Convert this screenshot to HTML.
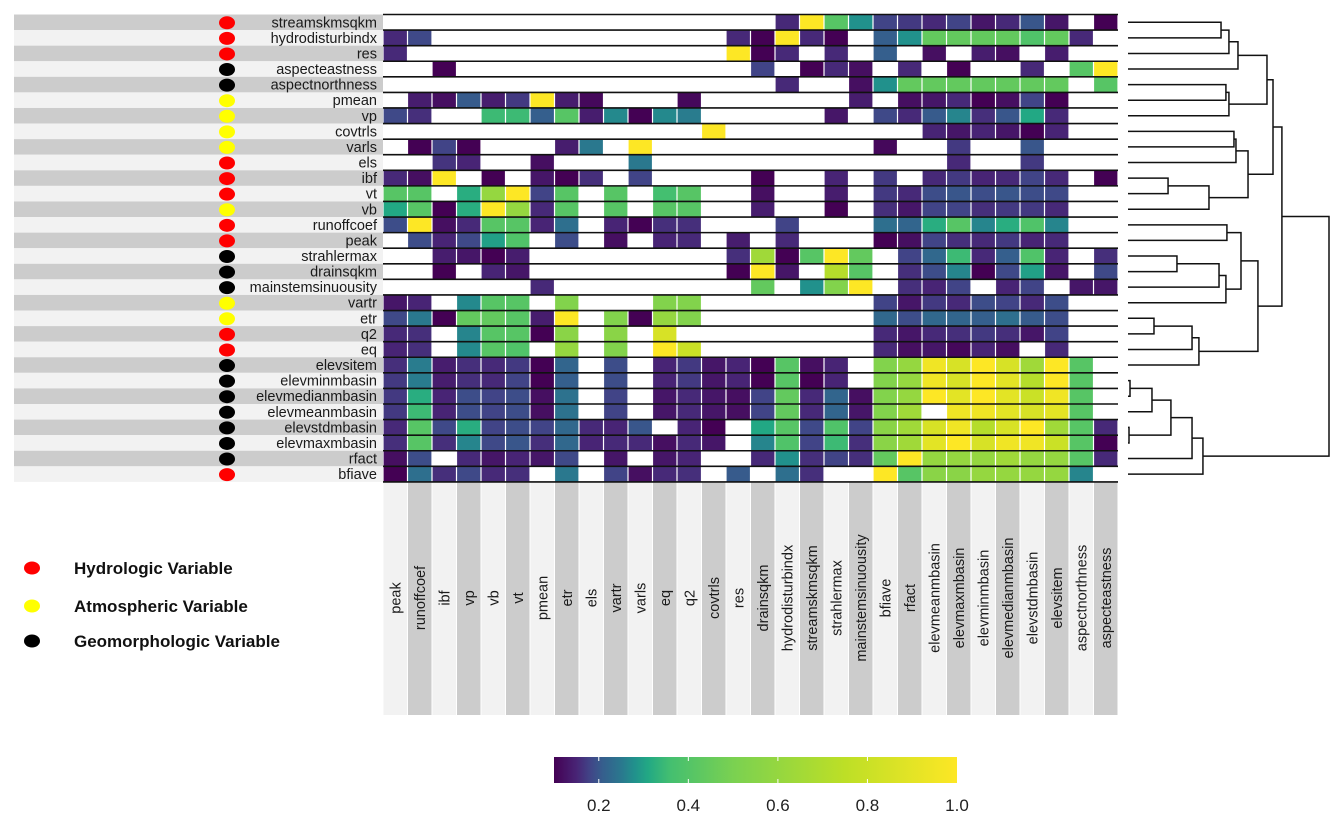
<!DOCTYPE html>
<html><head><meta charset="utf-8"><style>
html,body{margin:0;padding:0;background:#fff;}
svg{display:block;font-family:"Liberation Sans",Arial,sans-serif;}
</style></head><body>
<svg id="chart" width="1344" height="826" viewBox="0 0 1344 826" xmlns="http://www.w3.org/2000/svg">
<g id="legend">
<ellipse cx="32" cy="568" rx="8" ry="6.5" fill="#ff0000"/>
<text x="74" y="574" font-size="17" font-weight="bold" fill="#111">Hydrologic Variable</text>
<ellipse cx="32" cy="606" rx="8" ry="6.5" fill="#ffff00"/>
<text x="74" y="612" font-size="17" font-weight="bold" fill="#111">Atmospheric Variable</text>
<ellipse cx="32" cy="641" rx="8" ry="6.5" fill="#000"/>
<text x="74" y="647" font-size="17" font-weight="bold" fill="#111">Geomorphologic Variable</text>
</g>
</svg>
<script>
const _ = null;
const rowNames = ["streamskmsqkm","hydrodisturbindx","res","aspecteastness","aspectnorthness","pmean","vp","covtrls","varls","els","ibf","vt","vb","runoffcoef","peak","strahlermax","drainsqkm","mainstemsinuousity","vartr","etr","q2","eq","elevsitem","elevminmbasin","elevmedianmbasin","elevmeanmbasin","elevstdmbasin","elevmaxmbasin","rfact","bfiave"];
const rowTypes = ["H","H","H","G","G","A","A","A","A","H","H","H","A","H","H","G","G","G","A","A","H","H","G","G","G","G","G","G","G","H"];
const colNames = ["peak","runoffcoef","ibf","vp","vb","vt","pmean","etr","els","vartr","varls","eq","q2","covtrls","res","drainsqkm","hydrodisturbindx","streamskmsqkm","strahlermax","mainstemsinuousity","bfiave","rfact","elevmeanmbasin","elevmaxmbasin","elevminmbasin","elevmedianmbasin","elevstdmbasin","elevsitem","aspectnorthness","aspecteastness"];
const colorTicks = [0.2,0.4,0.6,0.8,1.0];
const values = [
[_,_,_,_,_,_,_,_,_,_,_,_,_,_,_,_,.155,1,.41,.28,.18,.17,.155,.18,.13,.155,.2,.13,_,.1],
[.155,.185,_,_,_,_,_,_,_,_,_,_,_,_,.155,.1,1,.155,.1,_,.21,.28,.44,.44,.44,.44,.39,.44,.155,_],
[.155,_,_,_,_,_,_,_,_,_,_,_,_,_,1,.1,.155,_,.155,_,.21,_,.12,_,.14,.12,_,.14,_,_],
[_,_,.1,_,_,_,_,_,_,_,_,_,_,_,_,.18,_,.1,.155,.12,_,.155,_,.1,_,_,.155,_,.41,1],
[_,_,_,_,_,_,_,_,_,_,_,_,_,_,_,_,.155,_,_,.12,.28,.44,.44,.44,.44,.44,.44,.44,_,.41],
[_,.14,.12,.205,.14,.17,1,.14,.11,_,_,_,.11,_,_,_,_,_,_,.14,_,.12,.13,.155,.1,.12,.18,.1,_,_],
[.185,.16,_,_,.35,.35,.21,.41,.14,.27,.1,.27,.255,_,_,_,_,_,.13,_,.185,.155,.205,.265,.16,.2,.31,.155,_,_],
[_,_,_,_,_,_,_,_,_,_,_,_,_,1,_,_,_,_,_,_,_,_,.15,.13,.15,.13,.1,.15,_,_],
[_,.1,.18,.1,_,_,_,.14,.25,_,1,_,_,_,_,_,_,_,_,_,.11,_,_,.17,_,_,.2,_,_,_],
[_,_,.165,.15,_,_,.12,_,_,_,.25,_,_,_,_,_,_,_,_,_,_,_,_,.155,_,_,.17,_,_,_],
[.155,.12,1,_,.1,_,.13,.1,.16,_,.18,_,_,_,_,.1,_,_,.15,_,.17,_,.155,.17,.15,.155,.18,.155,_,.1],
[.41,.41,_,.32,.6,1,.18,.41,_,.41,_,.36,.41,_,_,.12,_,_,.14,_,.17,.155,.19,.2,.19,.2,.19,.185,_,_],
[.31,.41,.1,.32,1,.6,.155,.41,_,.41,_,.41,.41,_,_,.14,_,_,.1,_,.16,.13,.18,.18,.16,.17,.17,.155,_,_],
[.19,1,.12,.155,.41,.41,.15,.235,_,.15,.1,.16,.16,_,_,_,.18,_,_,_,.235,.22,.32,.41,.265,.32,.39,.265,_,_],
[_,.19,.15,.185,.3,.39,_,.19,_,.12,_,.15,.155,_,.14,_,.155,_,_,_,.1,.12,.18,.16,.155,.17,.15,.155,_,_],
[_,_,.14,.13,.1,.14,_,_,_,_,_,_,_,_,.16,.64,.1,.41,1,.44,_,.18,.225,.35,.155,.21,.39,.15,_,.16],
[_,_,.1,_,.15,.13,_,_,_,_,_,_,_,_,.1,1,.13,_,.72,.41,_,.16,.19,.265,.1,.185,.3,.13,_,.185],
[_,_,_,_,_,_,.155,_,_,_,_,_,_,_,_,.44,_,.28,.53,1,_,.16,.15,.18,_,.15,.18,_,.13,.13],
[.13,.15,_,.27,.41,.41,_,.53,_,_,_,.53,.53,_,_,_,_,_,_,_,.18,.13,.17,.155,.19,.18,.155,.19,_,_],
[.185,.25,.1,.44,.44,.41,.14,1,_,.53,.1,.6,.53,_,_,_,_,_,_,_,.225,.19,.225,.22,.21,.235,.205,.19,_,_],
[.155,.16,_,.265,.41,.41,.1,.56,_,.56,_,.85,_,_,_,_,_,_,_,_,.155,.13,.155,.16,.17,.16,.13,.18,_,_],
[.15,.16,_,.27,.41,.39,_,.6,_,.53,_,1,.8,_,_,_,_,_,_,_,.155,.12,.13,.11,.15,.12,_,.155,_,_],
[.16,.255,.14,.16,.155,.17,.1,.22,_,.19,_,.15,.17,.13,.15,.1,.41,.12,.15,_,.53,.6,.95,.85,1,.85,.64,1,.41,_],
[.17,.255,.14,.16,.155,.18,.1,.21,_,.19,_,.15,.17,.13,.15,.1,.41,.1,.15,_,.53,.6,.95,.85,1,.9,.72,1,.41,_],
[.17,.32,.15,.19,.18,.19,.12,.24,_,.18,_,.13,.155,.13,.12,.18,.44,.155,.22,.12,.53,.6,1,.9,1,.9,.8,.95,.41,_],
[.17,.35,.15,.19,.18,.19,.12,.24,_,.18,_,.13,.155,.13,.12,.18,.44,.155,.22,.13,.53,.64,_,.95,.95,.9,.85,.9,.41,_],
[.155,.41,.185,.32,.18,.19,.18,.225,.155,.15,.2,_,.15,.1,_,.31,.41,.185,.39,.18,.56,.64,.85,.95,.72,.85,1,.64,.41,.155],
[.16,.41,.16,.265,.185,.2,.16,.225,.15,.155,.155,.12,.155,.13,_,.265,.39,.18,.35,.16,.56,.64,.9,1,.85,.95,.95,.8,.41,.1],
[.12,.19,_,.155,.13,.15,.13,.185,_,.13,_,.13,.15,_,_,.155,.28,.16,.18,.16,.44,1,.6,.6,.6,.64,.6,.6,.41,.155],
[.1,.235,.16,.185,.155,.16,_,.25,_,.18,.12,.155,.16,_,.205,_,.235,.16,_,_,1,.41,.56,.56,.6,.6,.6,.6,.265,_]
];
// dendrogram merges: [childA, childB, similarity height]; leaves are row indices, "nK" refers to merge K
const merges = [
[0,1,.352],["n0",2,.297],["n1",3,.234],[4,5,.318],["n3",6,.297],["n2","n4",.032],[7,8,.262],["n6",9,.248],[10,11,.721],["n8",12,.436],["n7","n9",.164],["n5","n10",-.01],
[13,14,.311],[15,16,.659],["n13",17,.366],["n14",18,.318],["n12","n15",.213],[19,20,.819],["n17",21,.554],["n18",22,.506],["n16","n19",.095],["n11","n20",-.072],
[23,24,.986],["n22",25,.833],[26,27,.993],["n23","n24",.701],["n25",28,.554],["n26",29,.478],["n21","n27",-.4]
];

const NS = "http://www.w3.org/2000/svg";
const svg = document.getElementById("chart");
const X0 = 383, CW = 24.5, Y0 = 14.5, RH = 15.58;
const nR = rowNames.length, nC = colNames.length;
const X1 = X0 + nC*CW, Y1 = Y0 + nR*RH;
function xCol(j){ return X0 + j*CW; }
function yRow(i){ return Y0 + i*RH; }
const VMIN = 0.1, VMAX = 1.0;
const scaleStops = [0.1,0.15,0.18,0.21,0.25,0.28,0.31,0.36,0.5,0.75,1.0];
const viridis = ["#440154","#482475","#414487","#355f8d","#2a788e","#21918c","#22a884","#44bf70","#7ad151","#bddf26","#fde725"];
function hex2rgb(h){ return [1,3,5].map(k=>parseInt(h.substr(k,2),16)); }
function color(v){
  v = Math.max(VMIN, Math.min(VMAX, v));
  for (let k=0;k<scaleStops.length-1;k++){
    if (v <= scaleStops[k+1]){
      const t = (v-scaleStops[k])/(scaleStops[k+1]-scaleStops[k]);
      const a = hex2rgb(viridis[k]), b = hex2rgb(viridis[k+1]);
      return "rgb("+a.map((c,i)=>Math.round(c+(b[i]-c)*t)).join(",")+")";
    }
  }
  return viridis[viridis.length-1];
}
function mk(tag, attrs, parent){
  const e = document.createElementNS(NS, tag);
  for (const k in attrs) e.setAttribute(k, attrs[k]);
  (parent||svg).appendChild(e);
  return e;
}

const rowG = mk("g", {});


const typeColor = {H:"#ff0000", A:"#ffff00", G:"#000000"};
rowNames.forEach((name,i)=>{
  const band = mk("rect", {x:14, y:yRow(i), width:X0-14, height:RH, fill: i%2===0 ? "#cccccc" : "#f2f2f2"}, rowG);
  
  
  const dot = mk("ellipse", {cx:227, cy:yRow(i)+RH/2+0.5, rx:8, ry:6.5, fill:typeColor[rowTypes[i]]}, rowG);
  
  
  const t = mk("text", {x:377, y:yRow(i)+RH/2+5, "font-size":14.5, "text-anchor":"end", fill:"#1a1a1a"}, rowG);
  t.textContent = name;
  
  
});

const colG = mk("g", {});


colNames.forEach((name,j)=>{
  const band = mk("rect", {x:xCol(j)+0.5, y:Y1, width:CW-1, height:715-Y1, fill: j%2===0 ? "#f2f2f2" : "#cccccc"}, colG);
  
  
  const cx = xCol(j)+CW/2+5, cy = 598;
  const t = mk("text", {x:cx, y:cy, "font-size":14.5, "text-anchor":"middle", fill:"#1a1a1a", transform:"rotate(-90 "+cx+" "+cy+")"}, colG);
  t.textContent = name;
  
  
});

const cellG = mk("g", {});


mk("rect", {x:X0, y:Y0, width:X1-X0, height:Y1-Y0, fill:"#ffffff"}, cellG);
values.forEach((row,i)=>{
  row.forEach((v,j)=>{
    if (v === null) return;
    const r = mk("rect", {x:xCol(j)+0.6, y:yRow(i), width:CW-1.2, height:RH, fill:color(v)}, cellG);
    
    
  });
});
const lineG = mk("g", {});


for (let i=0;i<=nR;i++){
  mk("line", {x1:X0, x2:X1, y1:yRow(i), y2:yRow(i), stroke:"#111", "stroke-width":1.6}, lineG);
}

const dG = mk("g", {fill:"none", stroke:"#111", "stroke-width":1.5});


const DX0 = 1128, DX1 = 1329;
function dx(h){ return DX0 + (1-h)*(DX1-DX0)/1.4; }
const nodes = [];
function nodeOf(c){
  if (typeof c === "number") return {x:DX0, y:yRow(c)+RH/2};
  return nodes[parseInt(c.slice(1))];
}
merges.forEach(m=>{
  const a = nodeOf(m[0]), b = nodeOf(m[1]), x = dx(m[2]);
  const p = mk("path", {d:"M"+a.x+","+a.y+"H"+x+"V"+b.y+"H"+b.x}, dG);
  
  
  nodes.push({x:x, y:(a.y+b.y)/2});
});

const CB0 = 554, CB1 = 957, CBY = 757, CBH = 26;
function cbx(v){ return CB0 + (v-VMIN)/(VMAX-VMIN)*(CB1-CB0); }
const defs = mk("defs", {});
const grad = mk("linearGradient", {id:"cbgrad", x1:"0", x2:"1", y1:"0", y2:"0"}, defs);
scaleStops.forEach((s,k)=>{
  mk("stop", {offset:((s-VMIN)/(VMAX-VMIN)).toFixed(4), "stop-color":viridis[k]}, grad);
});
const cbG = mk("g", {});


mk("rect", {x:CB0, y:CBY, width:CB1-CB0, height:CBH, fill:"url(#cbgrad)"}, cbG);
colorTicks.forEach(v=>{
  const x = cbx(v);
  if (v < VMAX){
    mk("line", {x1:x, x2:x, y1:CBY, y2:CBY+4, stroke:"#fff", "stroke-width":1}, cbG);
    mk("line", {x1:x, x2:x, y1:CBY+CBH-4, y2:CBY+CBH, stroke:"#fff", "stroke-width":1}, cbG);
  }
  const t = mk("text", {x:x, y:811, "font-size":17, "text-anchor":"middle", fill:"#222"}, cbG);
  t.textContent = v.toFixed(1);
  
  
});
</script>
</body></html>
